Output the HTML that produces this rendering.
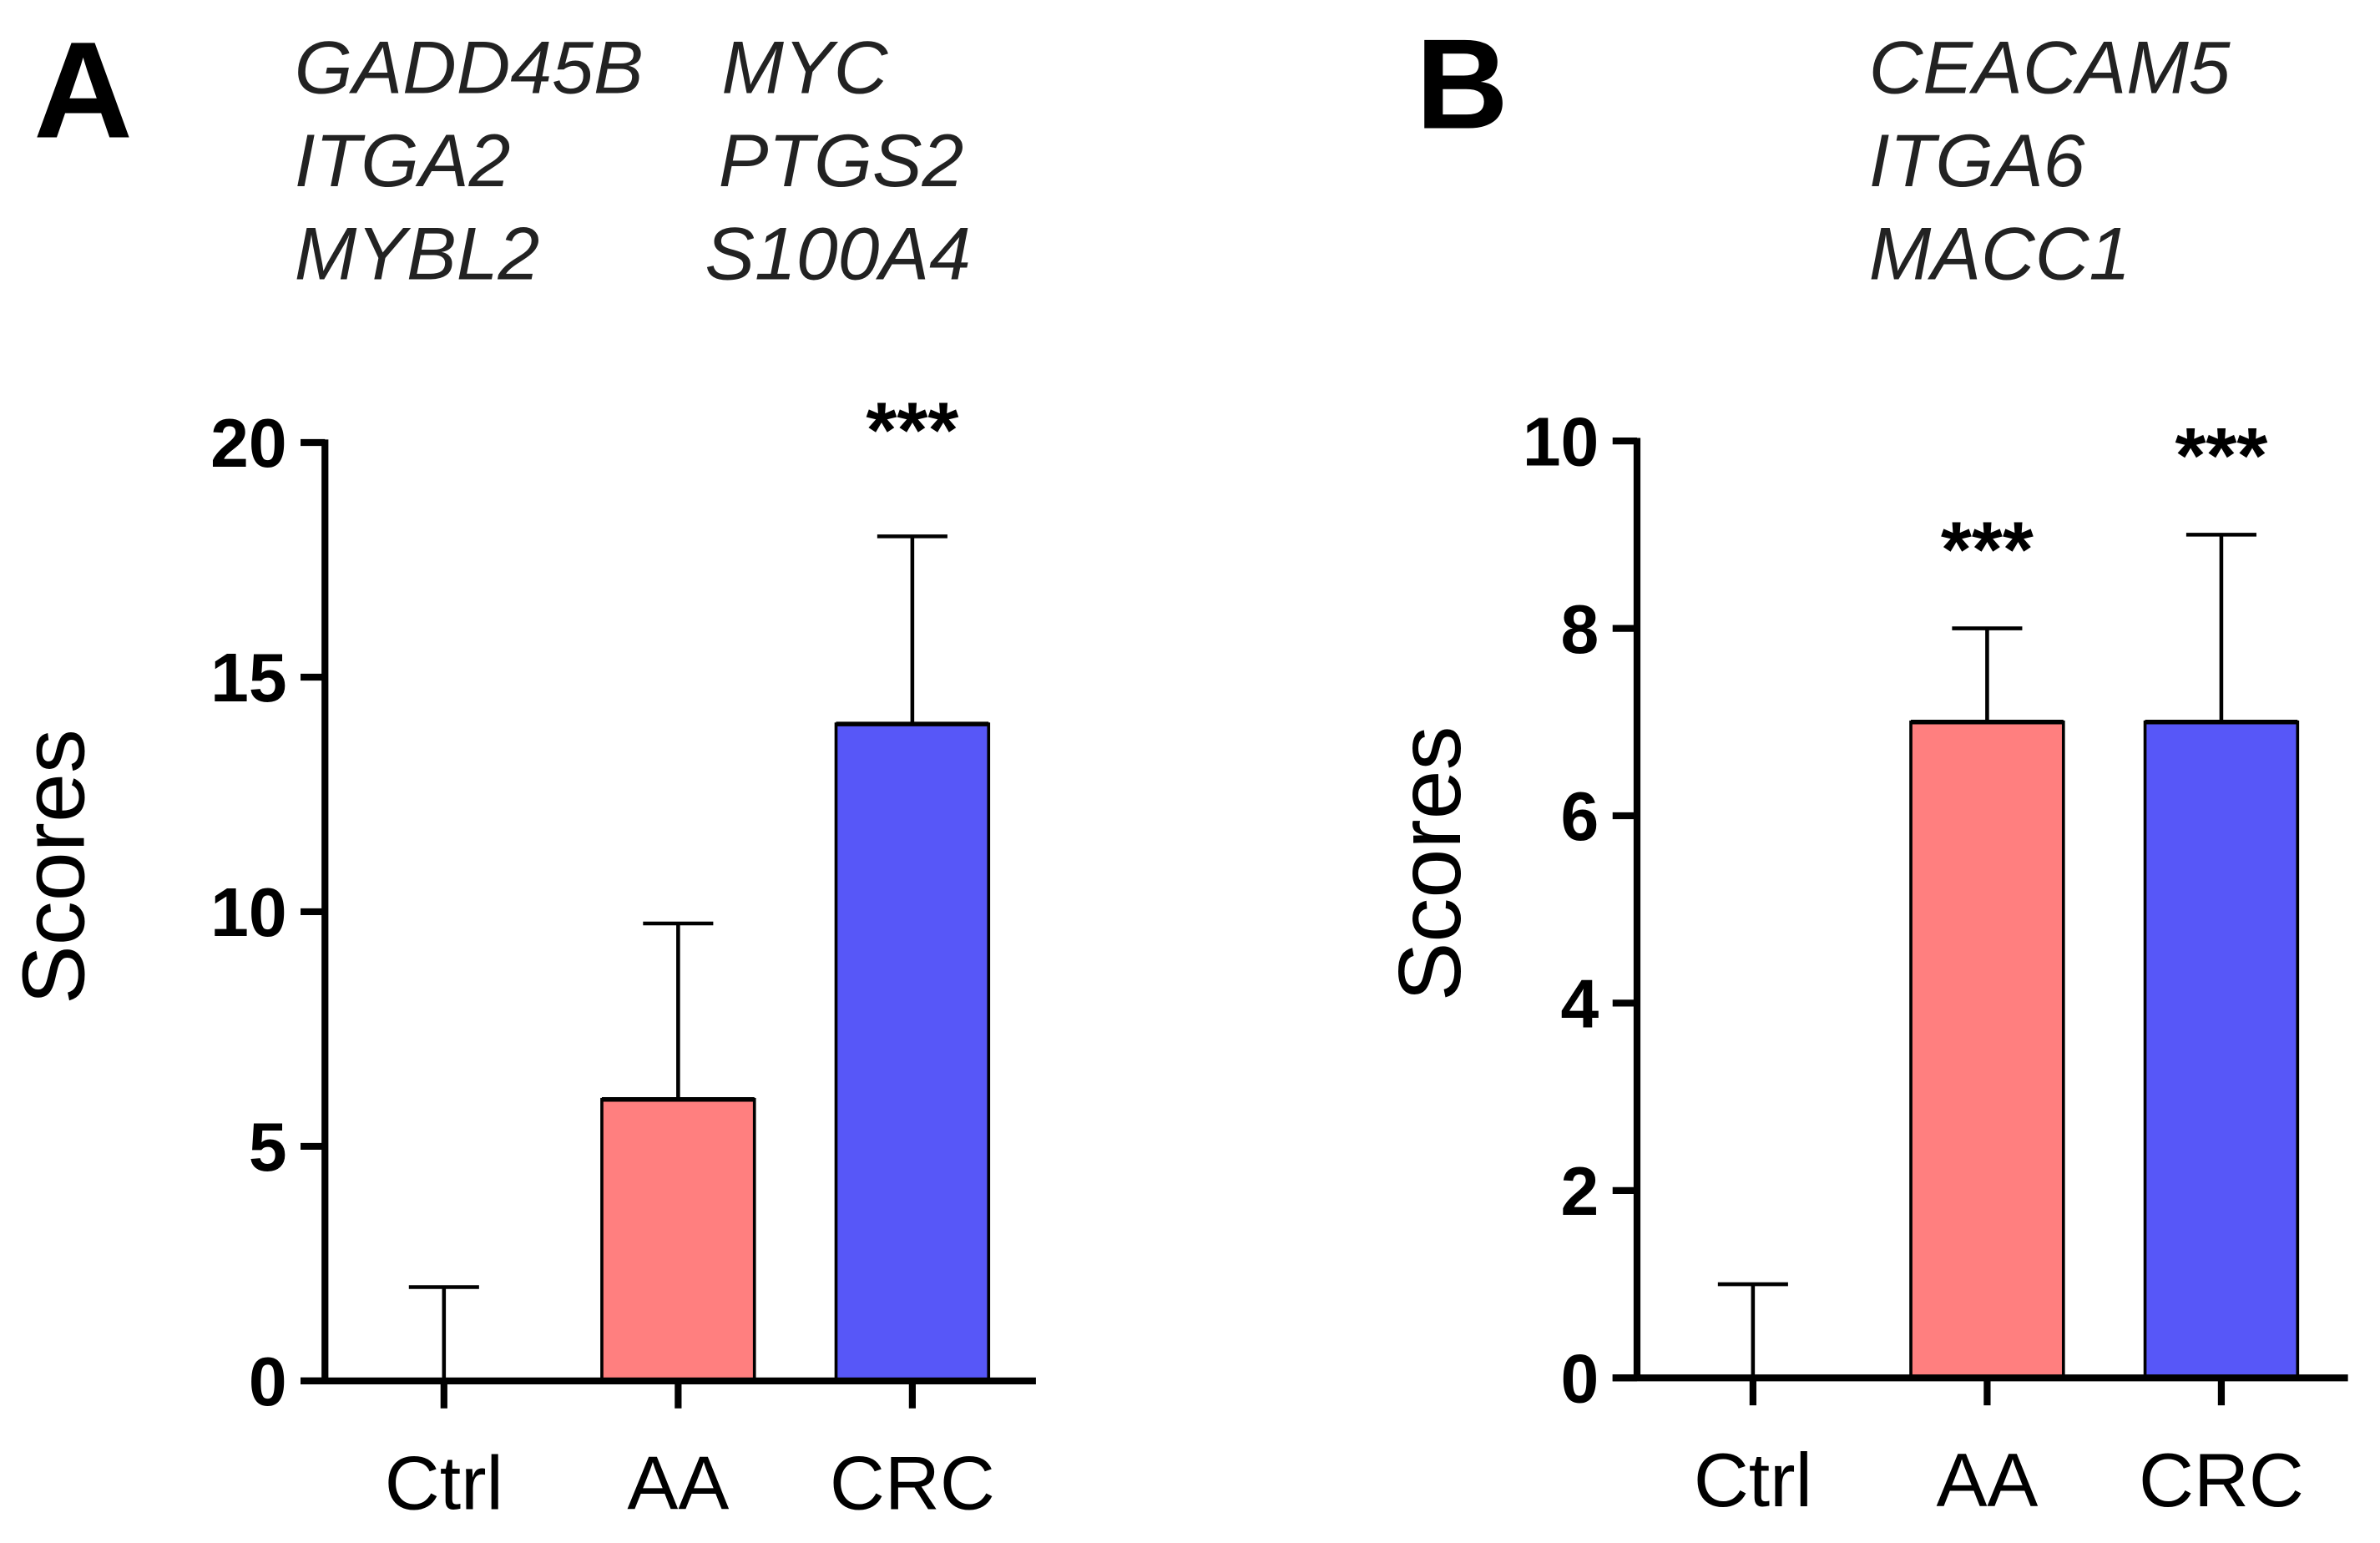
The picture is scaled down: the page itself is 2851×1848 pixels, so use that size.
<!DOCTYPE html>
<html><head><meta charset="utf-8"><style>
html,body{margin:0;padding:0;background:#fff;}
svg{display:block;}
text{font-family:"Liberation Sans",Arial,sans-serif;}
</style></head><body>
<svg id="fig" width="2851" height="1848" viewBox="0 0 1560 1011.2" preserveAspectRatio="none">
<rect width="1560" height="1012" fill="#fff"/>
<text x="22" y="90" font-size="90" font-weight="bold">A</text>
<g font-style="italic" font-size="49" fill="#222">
<text x="193" y="61">GADD45B</text><text x="473" y="61">MYC</text>
<text x="193" y="122">ITGA2</text><text x="471" y="122">PTGS2</text>
<text x="193" y="183">MYBL2</text><text x="462" y="183">S100A4</text>
</g>
<text x="928" y="84" font-size="84" font-weight="bold">B</text>
<g font-style="italic" font-size="49" fill="#222">
<text x="1225" y="61">CEACAM5</text>
<text x="1225" y="122">ITGA6</text>
<text x="1225" y="183">MACC1</text>
</g>
<g id="chartA"></g>
<g id="chartB"></g>
</svg>
<script>
const categories = ["Ctrl","AA","CRC"];
const valuesA = [0, 6, 14];
const errorsA = [2, 9.75, 18];
const sigA = ["", "", "***"];
const ticksA = [0, 5, 10, 15, 20];
const valuesB = [0, 7, 7];
const errorsB = [1, 8, 9];
const sigB = ["", "***", "***"];
const ticksB = [0, 2, 4, 6, 8, 10];
const colors = ["#ffffff","#ff7f7f","#5757f8"];
const NS = "http://www.w3.org/2000/svg";
function mk(parent, tag, attrs, txt){
  const e = document.createElementNS(NS, tag);
  for (const k in attrs) e.setAttribute(k, attrs[k]);
  if (txt !== undefined) e.textContent = txt;
  parent.appendChild(e); return e;
}
function draw(gid, cfg, vals, errs, sig, ticks, prefix){
  const g = document.getElementById(gid);
  const ymax = ticks[ticks.length-1];
  const y = v => cfg.y0 - (cfg.y0 - cfg.yTop) * v / ymax;
  const x = i => cfg.cx0 + i * cfg.step;
  const bw = 100, cap = 23;
  vals.forEach((v,i)=>{
    if (v > 0) {
      const r = mk(g,'rect',{x:x(i)-bw/2,y:y(v),width:bw,height:y(0)-y(v),fill:colors[i],stroke:'#000','stroke-width':2});
      
      
      mk(g,'line',{x1:x(i)-bw/2,x2:x(i)+bw/2,y1:y(v),y2:y(v),stroke:'#000','stroke-width':3});
    }
    const eb = mk(g,'path',{d:`M${x(i)} ${y(v)} V${y(errs[i])} M${x(i)-cap} ${y(errs[i])} H${x(i)+cap}`,stroke:'#000','stroke-width':2.5,fill:'none'});
    
    
    if (sig[i]) {
      const s = mk(g,'text',{x:x(i),y:y(errs[i])+cfg.sigOff,'font-size':52,'font-weight':'bold','text-anchor':'middle'},sig[i]);
      
      
    }
    mk(g,'line',{x1:x(i),x2:x(i),y1:y(0),y2:y(0)+18,stroke:'#000','stroke-width':4.5});
    const lbl = mk(g,'text',{x:x(i),y:y(0)+84,'font-size':50,'text-anchor':'middle'},categories[i]);
    
    
  });
  const ya = mk(g,'line',{x1:cfg.ax,x2:cfg.ax,y1:cfg.yTop-2,y2:y(0)+2,stroke:'#000','stroke-width':4.5});
  
  
  const xa = mk(g,'line',{x1:cfg.ax-16,x2:cfg.xEnd,y1:y(0),y2:y(0),stroke:'#000','stroke-width':4.5});
  
  
  ticks.forEach(t=>{
    mk(g,'line',{x1:cfg.ax-16,x2:cfg.ax,y1:y(t),y2:y(t),stroke:'#000','stroke-width':4.5});
    const tl = mk(g,'text',{x:cfg.ax-25,y:y(t)+16,'font-size':45,'font-weight':'bold','text-anchor':'end'},String(t));
    
    
  });
  const yt = mk(g,'text',{x:0,y:0,'font-size':58,'text-anchor':'middle',transform:`translate(${cfg.titleX},${cfg.titleY}) rotate(-90)`},'Scores');
  
  
}
draw('chartA',{y0:905,yTop:290,cx0:291,step:153.5,ax:213,xEnd:679,sigOff:-52,titleX:55,titleY:568},valuesA,errorsA,sigA,ticksA,'a-');
draw('chartB',{y0:903,yTop:289,cx0:1149,step:153.5,ax:1073,xEnd:1539,sigOff:-34,titleX:957,titleY:566},valuesB,errorsB,sigB,ticksB,'b-');
</script>
</body></html>
